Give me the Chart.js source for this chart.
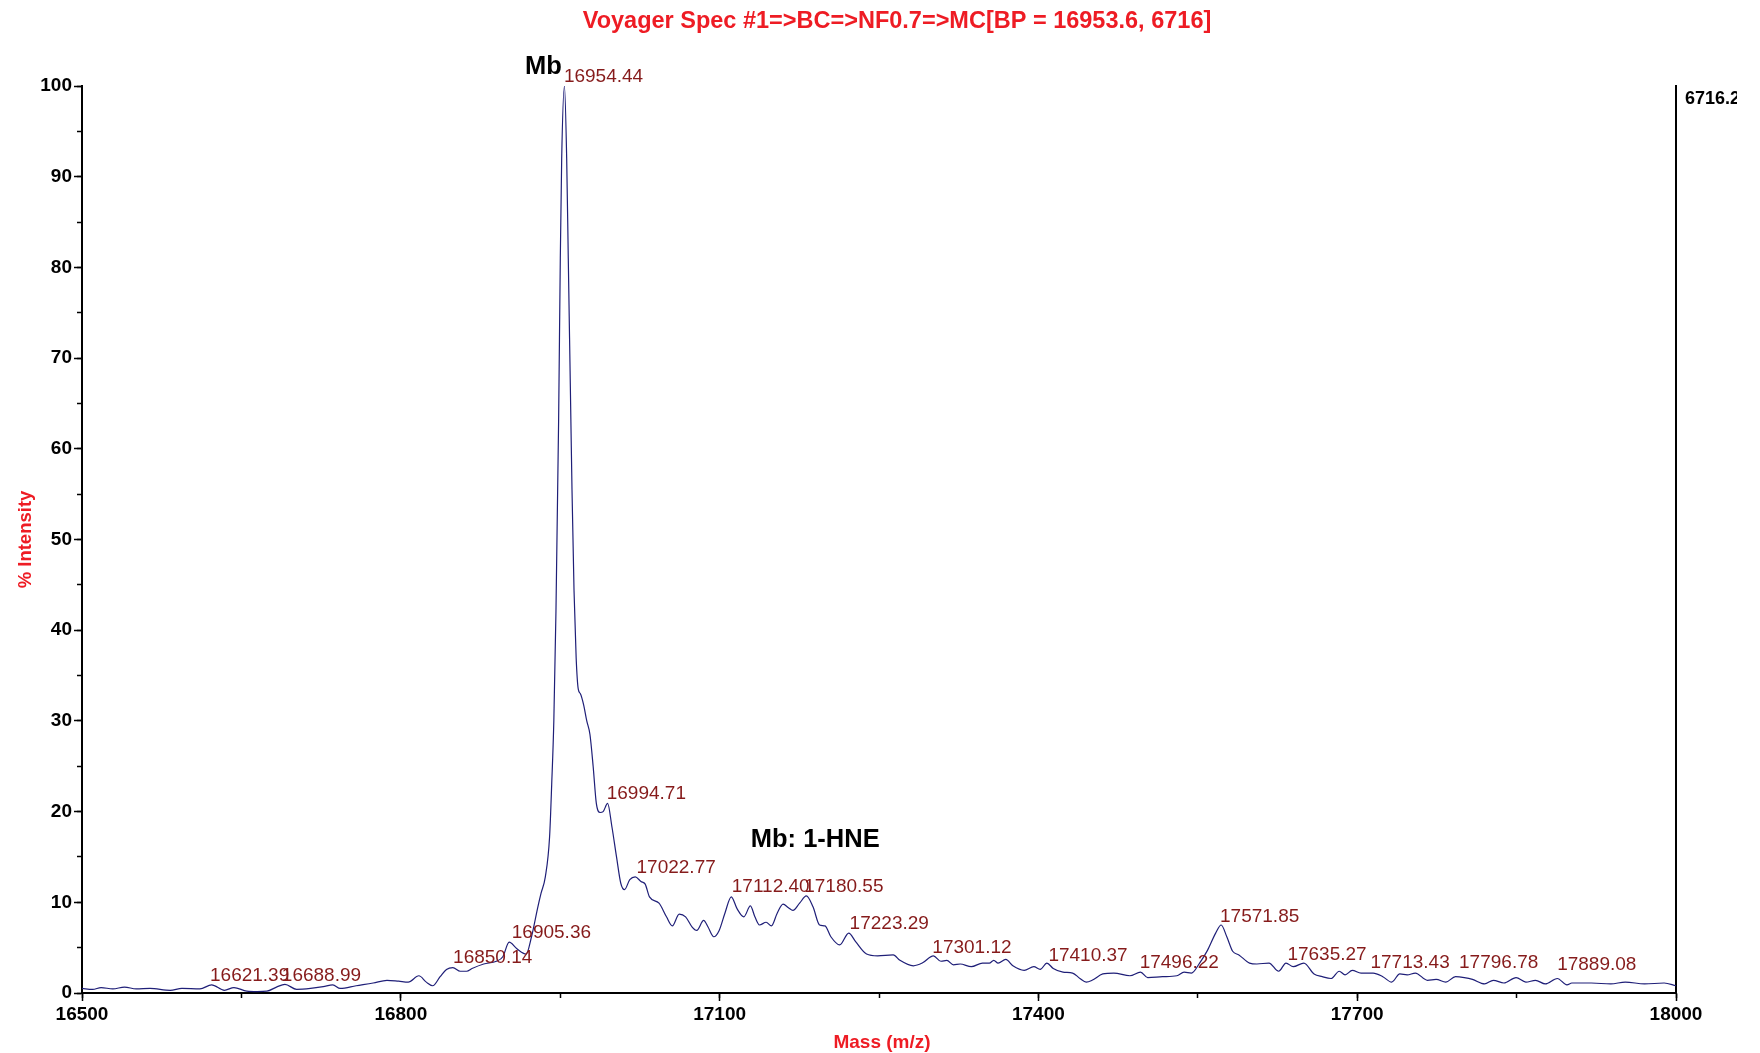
<!DOCTYPE html>
<html>
<head>
<meta charset="utf-8">
<script src="https://cdn.jsdelivr.net/npm/chart.js@4.4.0/dist/chart.umd.min.js"></script>
<style>
  body { margin: 0; background: #fff; }
  #wrap { width: 1760px; height: 1053px; }
</style>
</head>
<body>
<div id="wrap"><canvas id="chartSpec" width="1760" height="1053"></canvas></div>
<script>
// spectrum (mass, % intensity)
const masses = [
  16500, 16510, 16518, 16529, 16540, 16551, 16564, 16583, 16594, 16611,
  16622, 16634, 16643, 16655, 16665, 16674, 16683, 16691, 16702, 16715,
  16727, 16736, 16743, 16758, 16774, 16787, 16798, 16807, 16817, 16824,
  16830, 16837, 16843, 16849, 16856, 16862, 16867, 16878, 16890, 16896,
  16902, 16909, 16918, 16923, 16929, 16932, 16936, 16940, 16942, 16944,
  16946, 16948.5, 16950.1, 16951.4, 16954, 16956.1, 16957.6, 16959.8, 16961.1, 16963,
  16965, 16967, 16969, 16972, 16975, 16978, 16981, 16984, 16987.5, 16990.4,
  16994.6, 16998.7, 17003, 17007, 17010.5, 17015.5, 17020.6, 17026, 17030, 17034,
  17043, 17050, 17055.5, 17062, 17068, 17074, 17078.5, 17085, 17089, 17094.5,
  17099.6, 17105, 17111, 17116.4, 17122.8, 17129, 17133.2, 17137.5, 17143.8, 17148.8,
  17154.2, 17159.7, 17164.8, 17169, 17175.3, 17181.6, 17187.9, 17194.1, 17199.2, 17204.7,
  17213, 17221.5, 17227.8, 17238.3, 17248.7, 17263.4, 17269.7, 17282.3, 17290.7, 17301.2,
  17308.3, 17313.8, 17320.1, 17326.4, 17336.9, 17347.4, 17353.8, 17358, 17362.1, 17369.3,
  17376, 17386.6, 17395.7, 17401.7, 17408, 17414, 17423.1, 17432.2, 17439.1, 17445,
  17450.5, 17460.6, 17471, 17486.1, 17496.1, 17502.9, 17516.7, 17530.3, 17537.1, 17544,
  17551.7, 17559.1, 17566.8, 17572, 17577.3, 17582.8, 17588.7, 17598.7, 17605.6, 17617,
  17626.1, 17633, 17639.8, 17649.8, 17659.4, 17667.1, 17675.4, 17683.1, 17688.6, 17695.4,
  17703.6, 17715, 17724.1, 17732.4, 17740.1, 17747, 17754.7, 17766.1, 17774.3, 17783.4,
  17792.5, 17800.8, 17808.5, 17819.9, 17828.1, 17838.1, 17849.5, 17858.7, 17867.8, 17877,
  17888.3, 17897.4, 17902, 17920.3, 17938.6, 17952.3, 17970.5, 17988.8, 18000
];
const intensities = [
  0.5, 0.4, 0.6, 0.45, 0.65, 0.45, 0.5, 0.3, 0.5, 0.45,
  0.9, 0.3, 0.6, 0.2, 0.15, 0.2, 0.65, 0.95, 0.4, 0.5,
  0.7, 0.9, 0.5, 0.8, 1.1, 1.4, 1.3, 1.2, 1.9, 1.2,
  0.8, 1.8, 2.6, 2.8, 2.4, 2.4, 2.7, 3.2, 3.5, 4.0,
  5.6, 4.9, 4.3, 6.2, 9.5, 11, 12.8, 17.2, 23, 30,
  42, 63, 81, 92, 100, 92, 81, 65, 55.5, 44.4,
  37, 33.5, 33, 31.8, 30, 28.5, 25, 20.9, 19.9, 20.0,
  20.9, 18.3, 15.0, 12.1, 11.4, 12.5, 12.8, 12.3, 12.0, 10.6,
  9.9, 8.4, 7.4, 8.7, 8.4, 7.3, 6.9, 8.0, 7.3, 6.2,
  6.9, 8.8, 10.6, 9.3, 8.4, 9.6, 8.4, 7.5, 7.8, 7.4,
  8.8, 9.8, 9.4, 9.1, 9.9, 10.7, 9.5, 7.5, 7.4, 6.2,
  5.3, 6.6, 5.7, 4.3, 4.1, 4.2, 3.6, 3.0, 3.3, 4.1,
  3.5, 3.6, 3.1, 3.2, 2.9, 3.3, 3.3, 3.6, 3.3, 3.7,
  3.0, 2.5, 2.9, 2.6, 3.3, 2.7, 2.3, 2.2, 1.6, 1.2,
  1.4, 2.1, 2.2, 1.9, 2.3, 1.7, 1.8, 1.9, 2.3, 2.2,
  3.3, 4.7, 6.6, 7.5, 6.2, 4.6, 4.2, 3.3, 3.2, 3.3,
  2.4, 3.3, 2.9, 3.3, 2.1, 1.8, 1.6, 2.4, 2.0, 2.5,
  2.2, 2.2, 1.8, 1.2, 2.1, 2.0, 2.2, 1.4, 1.5, 1.2,
  1.8, 1.7, 1.5, 1.0, 1.4, 1.1, 1.7, 1.2, 1.4, 1.0,
  1.6, 0.9, 1.1, 1.1, 1.0, 1.2, 1.0, 1.1, 0.8
];

// peak labels: mass, height where the label sits, text
const peakMasses = [16621.39, 16688.99, 16850.14, 16905.36, 16954.44, 16994.71, 17022.77, 17112.40, 17180.55,
                    17223.29, 17301.12, 17410.37, 17496.22, 17571.85, 17635.27, 17713.43, 17796.78, 17889.08];
const peakLevels = [0.88, 0.88, 2.87, 5.6, 100, 20.9, 12.8, 10.7, 10.7,
                    6.6, 4.0, 3.1, 2.37, 7.4, 3.2, 2.37, 2.37, 2.1];
const peakLabels = ['16621.39', '16688.99', '16850.14', '16905.36', '16954.44', '16994.71', '17022.77', '17112.40', '17180.55',
                    '17223.29', '17301.12', '17410.37', '17496.22', '17571.85', '17635.27', '17713.43', '17796.78', '17889.08'];

// ticks
const xTicks = [16500, 16800, 17100, 17400, 17700, 18000];
const xMinorTicks = [16500, 16650, 16800, 16950, 17100, 17250, 17400, 17550, 17700, 17850, 18000];
const yTicks = [0, 10, 20, 30, 40, 50, 60, 70, 80, 90, 100];
const yMinorTicks = [0, 5, 10, 15, 20, 25, 30, 35, 40, 45, 50, 55, 60, 65, 70, 75, 80, 85, 90, 95, 100];

const titulo = 'Voyager Spec #1=>BC=>NF0.7=>MC[BP = 16953.6, 6716]';
const tituloX = 'Mass (m/z)';
const tituloY = '% Intensity';
const contagemMax = '6716.2';
const anotacoes = [
  { texto: 'Mb', x: 16954.44, y: 100, dx: -3, dy: -12, align: 'right' },
  { texto: 'Mb: 1-HNE', x: 17190, y: 16.1, dx: 0, dy: 0, align: 'center' }
];

const FONTE = "'Liberation Sans', Arial, Helvetica, sans-serif";
const VERMELHO = '#ee1c24';
const VINHO = '#861b1b';

Chart.defaults.font.family = FONTE;

// textos desenhados por cima do grafico
const textosPlugin = {
  id: 'textos',
  afterDraw(chart) {
    const ctx = chart.ctx;
    const xs = chart.scales.x;
    const ys = chart.scales.y;
    const area = chart.chartArea;
    ctx.save();

    // titulo
    ctx.fillStyle = VERMELHO;
    ctx.font = 'bold 23.5px ' + FONTE;
    ctx.textAlign = 'center';
    ctx.textBaseline = 'alphabetic';
    ctx.fillText(titulo, 897, 28);

    // titulo eixo x
    ctx.font = 'bold 19px ' + FONTE;
    ctx.fillText(tituloX, (area.left + area.right) / 2 + 3, 1048);

    // titulo eixo y
    ctx.save();
    ctx.translate(31, (area.top + area.bottom) / 2);
    ctx.rotate(-Math.PI / 2);
    ctx.font = 'bold 18.5px ' + FONTE;
    ctx.fillText(tituloY, 0, 0);
    ctx.restore();

    // rotulos dos picos
    ctx.fillStyle = VINHO;
    ctx.font = '19px ' + FONTE;
    ctx.textAlign = 'left';
    peakMasses.forEach((m, i) => {
      const px = xs.getPixelForValue(m);
      const py = ys.getPixelForValue(peakLevels[i]) - 4;
      ctx.fillText(peakLabels[i], px - 1, py);
    });

    // anotacoes em preto
    ctx.fillStyle = '#000';
    ctx.font = 'bold 25.5px ' + FONTE;
    anotacoes.forEach(a => {
      ctx.textAlign = a.align;
      ctx.fillText(a.texto, xs.getPixelForValue(a.x) + a.dx, ys.getPixelForValue(a.y) + a.dy);
    });

    // contagem absoluta no eixo da direita (cortada na borda)
    ctx.beginPath();
    ctx.rect(0, 0, 1737, 1053);
    ctx.clip();
    ctx.textAlign = 'left';
    ctx.font = 'bold 18px ' + FONTE;
    ctx.fillText(contagemMax, area.right + 9, area.top + 18);

    ctx.restore();
  }
};

function usarTicks(lista) {
  return scale => { scale.ticks = lista.map(v => ({ value: v })); };
}

const eixoComum = {
  type: 'linear',
  border: { display: true, color: '#000', width: 2 },
  grid: { drawOnChartArea: false, drawTicks: true, tickLength: 8, tickColor: '#000', tickWidth: 1.5 }
};

const ctx = document.getElementById('chartSpec').getContext('2d');
const chart = new Chart(ctx, {
  type: 'line',
  data: {
    datasets: [{
      label: 'Spec #1',
      data: masses.map((m, i) => ({ x: m, y: intensities[i] })),
      borderColor: '#1f1f78',
      borderWidth: 1.2,
      pointRadius: 0,
      cubicInterpolationMode: 'monotone',
      fill: false
    }]
  },
  options: {
    responsive: false,
    animation: false,
    layout: { padding: { top: 86, left: 0, right: 0, bottom: 0 } },
    plugins: {
      legend: { display: false },
      title: { display: false },
      tooltip: { enabled: false }
    },
    scales: {
      x: {
        ...eixoComum,
        position: 'bottom',
        weight: 1,
        min: 16500,
        max: 18000,
        afterBuildTicks: usarTicks(xTicks),
        afterFit: s => { s.height = 60; },
        ticks: {
          color: '#000', font: { size: 19, weight: 'bold' }, padding: 2, maxRotation: 0, autoSkip: false,
          callback: v => String(v)
        }
      },
      xMinor: {
        ...eixoComum,
        position: 'bottom',
        weight: 0,
        min: 16500,
        max: 18000,
        border: { display: false },
        grid: { drawOnChartArea: false, drawTicks: true, tickLength: 5, tickColor: '#000', tickWidth: 1.5 },
        afterBuildTicks: usarTicks(xMinorTicks),
        afterFit: s => { s.height = 0; },
        ticks: { display: false }
      },
      y: {
        ...eixoComum,
        position: 'left',
        weight: 1,
        min: 0,
        max: 100,
        afterBuildTicks: usarTicks(yTicks),
        afterFit: s => { s.width = 82; },
        ticks: { color: '#000', font: { size: 19, weight: 'bold' }, padding: 2, autoSkip: false, callback: v => String(v) }
      },
      yMinor: {
        ...eixoComum,
        position: 'left',
        weight: 0,
        min: 0,
        max: 100,
        border: { display: false },
        grid: { drawOnChartArea: false, drawTicks: true, tickLength: 5, tickColor: '#000', tickWidth: 1.5 },
        afterBuildTicks: usarTicks(yMinorTicks),
        afterFit: s => { s.width = 0; },
        ticks: { display: false }
      },
      y2: {
        type: 'linear',
        position: 'right',
        min: 0,
        max: 6716.2,
        border: { display: true, color: '#000', width: 2 },
        grid: { display: false },
        ticks: { display: false },
        afterFit: s => { s.width = 84; }
      }
    }
  },
  plugins: [textosPlugin]
});
</script>
</body>
</html>
